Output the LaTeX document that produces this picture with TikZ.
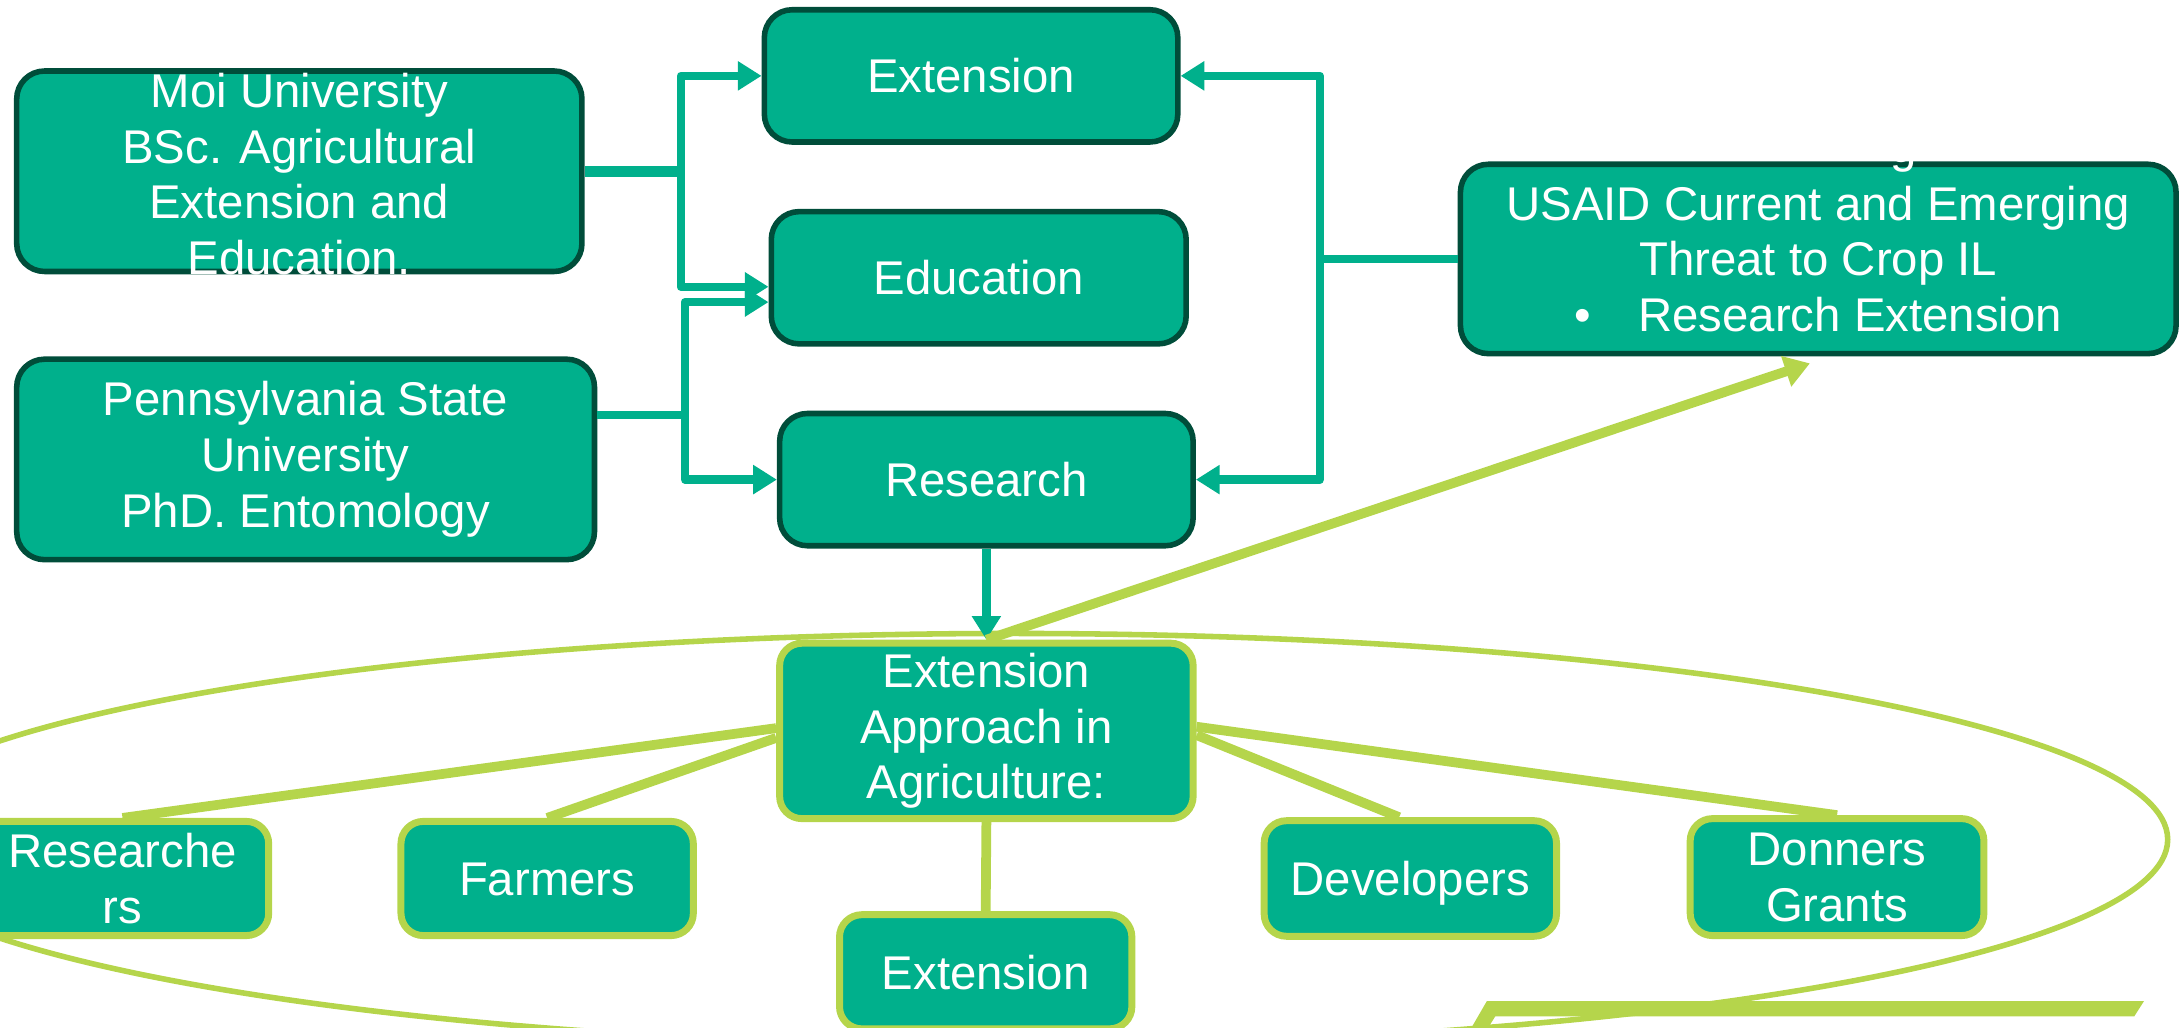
\documentclass[tikz,border=0pt]{standalone}
\usepackage{fontspec}
\setmainfont{Liberation Sans}
\usetikzlibrary{arrows.meta,backgrounds}
\definecolor{boxfill}{RGB}{0,176,140}
\definecolor{boxline}{RGB}{0,77,58}
\definecolor{limeline}{RGB}{181,213,75}

\begin{document}
\begin{tikzpicture}[x=0.5pt,y=-0.5pt]
\tikzstyle{label font}=[font=\fontsize{17}{20}\selectfont, text=white, align=center]
\tikzstyle{topbox}=[label font, draw=boxline, line width=2pt, fill=boxfill, rounded corners=10pt, inner sep=0pt]
\tikzstyle{lowbox}=[label font, draw=limeline, line width=2.5pt, fill=boxfill, rounded corners=8pt, inner sep=0pt]
\tikzstyle{one line}=[text height=12.5pt, text depth=0pt]
\tikzstyle{feed}=[draw=boxfill, line width=3pt, line join=round, -{Triangle[length=8.5pt,width=10pt]}]
\tikzstyle{spoke}=[draw=limeline, line width=3.5pt]

\useasboundingbox (0,0) rectangle (1568,737.7);

\node[topbox, minimum width=148.5pt, minimum height=47.5pt] (ext) at (697.5,54.5) {Extension};
\node[topbox, minimum width=149pt, minimum height=47.5pt] (edu) at (703,199.5) {Education};
\node[topbox, minimum width=148.5pt, minimum height=47.5pt] (res) at (708.5,344.5) {Research};

\node[topbox, minimum width=203pt, minimum height=72pt] (moi) at (215,123) {};
\node[label font, inner sep=0pt] (moitext) at ([yshift=-1pt]moi.center)
  {Moi University\\BSc. Agricultural\\Extension and\\Education.};
\node[topbox, minimum width=207.5pt, minimum height=72pt] (psu) at (219.5,330)
  {Pennsylvania State\\University\\PhD. Entomology};

\node[topbox, minimum width=257pt, minimum height=68pt] (usaid) at (1306,186)
  {USAID Current and Emerging\\Threat to Crop IL\\\textbullet\hspace{1em}Research Extension};
\node[label font, anchor=base, inner sep=0pt] (usaidcut) at (1367,117) {g};

\node[lowbox, minimum width=148.5pt, minimum height=63pt] (app) at (708.5,525)
  {Extension\\Approach in\\Agriculture:};
\node[lowbox, minimum width=105pt, minimum height=41pt] (rsr) at (88,631) {Researche\\rs};
\node[lowbox, one line, minimum width=105pt, minimum height=41pt] (frm) at (393,631) {Farmers};
\node[lowbox, one line, minimum width=105pt, minimum height=41.5pt] (dev) at (1013,631) {Developers};
\node[lowbox, minimum width=105.5pt, minimum height=42pt] (don) at (1319.5,630) {Donners\\Grants};
\node[lowbox, one line, minimum width=105pt, minimum height=41pt] (extb) at (708,698) {Extension};

\begin{scope}[on background layer]
\draw[limeline, line width=2pt] (728,603) ellipse [x radius=414.5pt, y radius=74pt];
\fill[limeline] (1068,719) -- (1540,719) -- (1533,730) -- (1074,730) -- (1069,738) -- (1057,738) -- cycle;
\draw[spoke] ([yshift=1pt]app.west) -- (rsr.north);
\draw[spoke] ([yshift=-2.5pt]app.west) -- (frm.north);
\draw[spoke] ([yshift=-1.5pt]app.east) -- ([xshift=-4pt]dev.north);
\draw[spoke] ([yshift=1.5pt]app.east) -- (don.north);
\draw[spoke] (app.south) -- (extb.north);
\end{scope}

\draw[draw=boxfill, line width=4pt] (moi.east) -- ++(69,0) coordinate (moij);
\draw[feed] (moij) |- (ext.west);
\draw[feed] (moij) |- ([yshift=-3.25pt]edu.west);
\draw[draw=boxfill, line width=3pt] ([yshift=16pt]psu.east) -- ++(63,0) coordinate (psuj);
\draw[feed] (psuj) |- ([yshift=-8.75pt]edu.west);
\draw[feed] (psuj) |- (res.west);
\draw[draw=boxfill, line width=3pt] (usaid.west) -- (948,186) coordinate (usaidj);
\draw[feed] (usaidj) |- (ext.east);
\draw[feed] (usaidj) |- (res.east);
\draw[feed] (res.south) -- (app.north);

\draw[spoke, -{Triangle[length=9pt,width=11pt]}] (app.north) -- ([xshift=-3pt,yshift=-2.5pt]usaid.south);
\end{tikzpicture}
\end{document}
